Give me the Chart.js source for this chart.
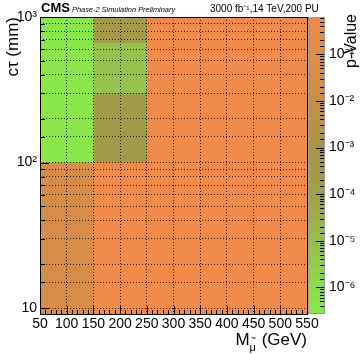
<!DOCTYPE html>
<html>
<head>
<meta charset="utf-8">
<script src="https://cdn.jsdelivr.net/npm/chart.js@4/dist/chart.umd.min.js"></script>
<style>
  body { margin: 0; background: #fff; }
  #wrap { position: relative; width: 361px; height: 354px; }
  #mainChart { position: absolute; left: 0; top: 0; }
  #paletteChart { position: absolute; left: 300px; top: 0; }
</style>
</head>
<body>
<div id="wrap">
  <canvas id="mainChart" width="361" height="354"></canvas>
  <canvas id="paletteChart" width="61" height="354"></canvas>
</div>
<script>
// bin edges of the 2D histogram
var massEdges = [50, 150, 250, 350, 450, 550];   // GeV
var ctauEdges = [9.1, 100, 300, 660, 1000];      // mm
// p-values, one row per ctau bin (bottom to top), one column per mass bin
var pRow0 = [0.04, 0.6, 0.6, 0.6, 0.6];
var pRow1 = [4e-7, 3e-4, 0.6, 0.6, 0.6];
var pRow2 = [4e-7, 8e-6, 0.6, 0.6, 0.6];
var pRow3 = [4e-7, 3e-4, 0.6, 0.6, 0.6];
var pValues = [pRow0, pRow1, pRow2, pRow3];
// colour axis range
var pMin = Math.pow(10, -6.55);
var pMax = Math.pow(10, -0.2);

// palette: log10(p) -> colour
var paletteLogs = [-6.55, -6, -5, -4, -3, -2, -1, -0.2];
var paletteRGB = [
    [138, 234, 75], [140, 220, 75], [150, 190, 77], [158, 160, 74],
    [168, 150, 72], [200, 142, 72], [222, 140, 74], [239, 138, 75]
];

function pColor(p) {
    var l = Math.log10(p);
    if (l <= paletteLogs[0]) return 'rgb(' + paletteRGB[0].join(',') + ')';
    for (var k = 1; k < paletteLogs.length; k++) {
        if (l <= paletteLogs[k]) {
            var t = (l - paletteLogs[k - 1]) / (paletteLogs[k] - paletteLogs[k - 1]);
            var a = paletteRGB[k - 1], b = paletteRGB[k];
            return 'rgb(' + [0, 1, 2].map(function (j) { return Math.round(a[j] + (b[j] - a[j]) * t); }).join(',') + ')';
        }
    }
    return 'rgb(' + paletteRGB[paletteRGB.length - 1].join(',') + ')';
}

function supLabel(v) {
    var e = Math.round(Math.log10(v));
    if (Math.abs(Math.log10(v) - e) > 1e-6) return '';
    if (e === 1) return '10';
    var sup = { '-': '\u207B', '0': '\u2070', '1': '\u00B9', '2': '\u00B2', '3': '\u00B3', '4': '\u2074', '5': '\u2075', '6': '\u2076', '7': '\u2077', '8': '\u2078', '9': '\u2079' };
    return '10' + String(e).split('').map(function (ch) { return sup[ch]; }).join('');
}

// cells: each one filled from its top edge down to the axis floor and out to the
// right end of the mass axis; chart.js paints the highest index first, so the
// later (lower index) cells cover the overlap and no seams appear between bins
var cellDatasets = [];
var nM = massEdges.length - 1;
for (var r = 0; r < ctauEdges.length - 1; r++) {
    for (var c = nM - 1; c >= 0; c--) {
        cellDatasets.push({
            data: [{ x: massEdges[c], y: ctauEdges[r + 1] }, { x: massEdges[nM], y: ctauEdges[r + 1] }],
            fill: { value: ctauEdges[0] },
            backgroundColor: pColor(pValues[r][c]),
            borderWidth: 0,
            pointRadius: 0,
            tension: 0
        });
    }
}

var FONT = "'Liberation Sans', Arial, sans-serif";

var mainDecor = {
    id: 'mainDecor',
    afterDraw: function (chart) {
        var ctx = chart.ctx, a = chart.chartArea;
        var xs = chart.scales.x, ys = chart.scales.y;
        ctx.save();
        ctx.strokeStyle = '#000';
        ctx.lineWidth = 1;
        ctx.strokeRect(Math.round(a.left) + 0.5, Math.round(a.top) + 0.5, Math.round(a.right - a.left), Math.round(a.bottom - a.top));
        ctx.beginPath();
        for (var v = xs.min; v <= xs.max + 0.01; v += 10) {
            var px = Math.round(xs.getPixelForValue(v)) + 0.5;
            var len = (v % 50 === 0) ? 8 : 4;
            ctx.moveTo(px, a.bottom);
            ctx.lineTo(px, a.bottom - len);
        }
        ys.ticks.forEach(function (t) {
            var py = Math.round(ys.getPixelForValue(t.value)) + 0.5;
            var len = supLabel(t.value) ? 9 : 5;
            ctx.moveTo(a.left, py);
            ctx.lineTo(a.left + len, py);
        });
        ctx.stroke();

        ctx.fillStyle = '#000';
        ctx.textBaseline = 'alphabetic';
        ctx.textAlign = 'left';
        ctx.font = 'bold 13px ' + FONT;
        ctx.fillText('CMS', 41, 12);
        ctx.font = 'italic 7.4px ' + FONT;
        ctx.fillText('Phase-2 Simulation Preliminary', 72, 12);
        ctx.font = '10px ' + FONT;
        ctx.fillText('3000 fb\u207B\u00B9,14 TeV,200 PU', 210, 12);

        // x title with subscript mu-tilde
        var big = '17px ' + FONT, small = '11px ' + FONT;
        ctx.font = big;
        var wM = ctx.measureText('M').width, wRest = ctx.measureText(' (GeV)').width;
        ctx.font = small;
        var wSub = ctx.measureText('\u03BC').width + 1;
        var x0 = a.right - (wM + wSub + wRest);
        ctx.font = big;
        ctx.fillText('M', x0, 345);
        ctx.font = small;
        ctx.fillText('\u03BC', x0 + wM, 351);
        ctx.font = '9px ' + FONT;
        ctx.textAlign = 'center';
        ctx.fillText('~', x0 + wM + wSub / 2, 341);
        ctx.textAlign = 'left';
        ctx.font = big;
        ctx.fillText(' (GeV)', x0 + wM + wSub, 345);

        // y title
        ctx.translate(13, a.top);
        ctx.rotate(-Math.PI / 2);
        ctx.textAlign = 'right';
        ctx.textBaseline = 'middle';
        ctx.font = '17px ' + FONT;
        ctx.fillText('c\u03C4 (mm)', 0, 0);
        ctx.restore();
    }
};

new Chart(document.getElementById('mainChart'), {
    type: 'line',
    data: { datasets: cellDatasets },
    options: {
        responsive: false,
        animation: false,
        layout: { padding: { top: 17, right: 54, left: 0, bottom: 0 } },
        plugins: { legend: { display: false }, tooltip: { enabled: false } },
        scales: {
            x: {
                type: 'linear', min: massEdges[0], max: massEdges[nM],
                ticks: { stepSize: 50, color: '#000', font: { family: FONT, size: 14 }, padding: 2, maxRotation: 0, autoSkip: false },
                grid: { color: 'rgba(0,0,0,0.8)', lineWidth: 1, drawTicks: false, z: 1 },
                border: { display: false, dash: [1, 2] },
                afterFit: function (s) { s.height = 40; }
            },
            y: {
                type: 'logarithmic', min: ctauEdges[0], max: ctauEdges[ctauEdges.length - 1],
                ticks: { color: '#000', font: { family: FONT, size: 14 }, padding: 3, autoSkip: false, callback: function (v) { return supLabel(v); } },
                grid: { color: 'rgba(0,0,0,0.8)', lineWidth: 1, drawTicks: false, z: 1 },
                border: { display: false, dash: [1, 2] },
                afterFit: function (s) { s.width = 40; }
            }
        }
    },
    plugins: [mainDecor]
});

// colour bar: floating bars stacked along the p-value axis
var barSteps = 26;
var barDatasets = [];
var lMin = Math.log10(pMin), lMax = Math.log10(pMax);
for (var i = 0; i < barSteps; i++) {
    var lo = Math.pow(10, lMin + (lMax - lMin) * i / barSteps);
    var hi = Math.pow(10, lMin + (lMax - lMin) * (i + 1) / barSteps);
    barDatasets.push({
        data: [[lo, hi]],
        backgroundColor: pColor(Math.sqrt(lo * hi)),
        borderWidth: 0,
        grouped: false,
        barPercentage: 1,
        categoryPercentage: 1
    });
}

var barDecor = {
    id: 'barDecor',
    afterDraw: function (chart) {
        var ctx = chart.ctx, a = chart.chartArea, ys = chart.scales.y;
        ctx.save();
        ctx.strokeStyle = '#000';
        ctx.lineWidth = 1;
        ctx.beginPath();
        ys.ticks.forEach(function (t) {
            var py = Math.round(ys.getPixelForValue(t.value)) + 0.5;
            var len = supLabel(t.value) ? 9 : 5;
            ctx.moveTo(a.right, py);
            ctx.lineTo(a.right - len, py);
        });
        ctx.stroke();
        ctx.strokeStyle = '#999';
        ctx.strokeRect(Math.round(a.left) + 0.5, Math.round(a.top) + 0.5, Math.round(a.right - a.left) - 1, Math.round(a.bottom - a.top));
        ctx.fillStyle = '#000';
        ctx.translate(52, a.top - 3);
        ctx.rotate(-Math.PI / 2);
        ctx.textAlign = 'right';
        ctx.textBaseline = 'middle';
        ctx.font = '16px ' + FONT;
        ctx.fillText('p-Value', 0, 0);
        ctx.restore();
    }
};

new Chart(document.getElementById('paletteChart'), {
    type: 'bar',
    data: { labels: [''], datasets: barDatasets },
    options: {
        responsive: false,
        animation: false,
        layout: { padding: { top: 17, bottom: 41, left: 8, right: 0 } },
        plugins: { legend: { display: false }, tooltip: { enabled: false } },
        scales: {
            x: { display: false },
            y: {
                type: 'logarithmic', position: 'right', min: pMin, max: pMax,
                ticks: { color: '#000', font: { family: FONT, size: 14 }, padding: 4, autoSkip: false, callback: function (v) { return supLabel(v); } },
                grid: { drawOnChartArea: false, drawTicks: false },
                border: { display: false },
                afterFit: function (s) { s.width = 36; }
            }
        }
    },
    plugins: [barDecor]
});
</script>
</body>
</html>
